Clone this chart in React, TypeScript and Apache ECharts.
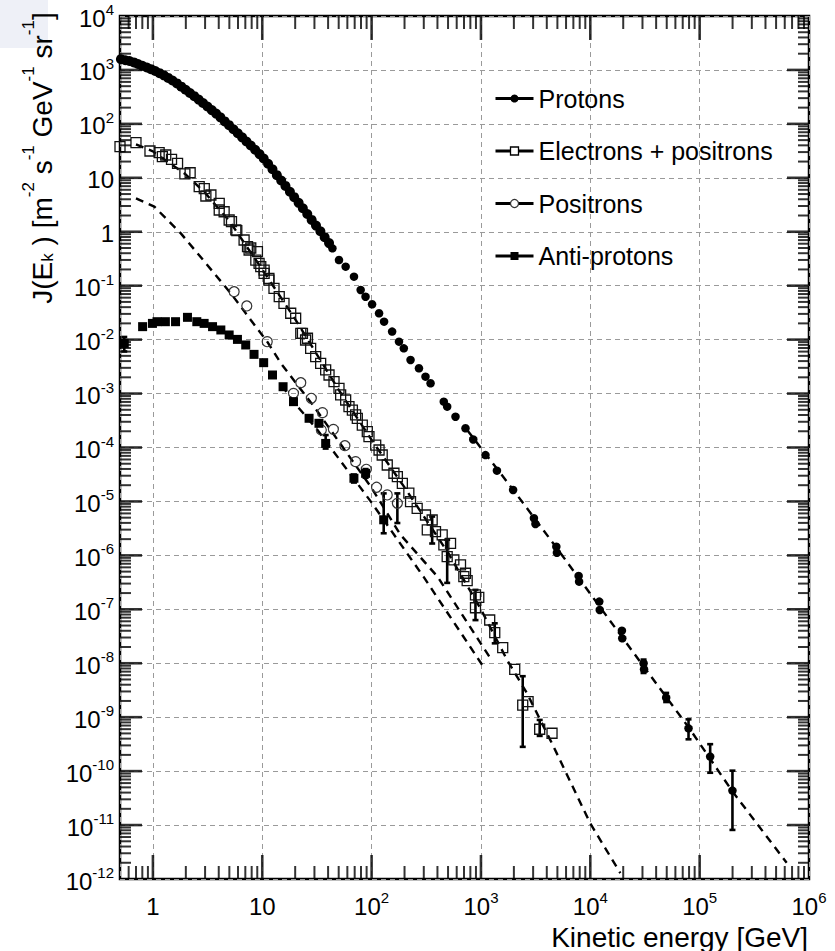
import React, { useEffect, useRef } from 'react';
import * as echarts from 'echarts';

const FONT = '"Liberation Sans", Arial, Helvetica, sans-serif';

// ---------- Data ----------
const protonE = [0.51, 0.56, 0.61, 0.67, 0.73, 0.8, 0.88, 0.96, 1.05, 1.15, 1.26, 1.38, 1.51, 1.66, 1.82, 1.99, 2.18, 2.39, 2.62, 2.87, 3.15, 3.45, 3.78, 4.14, 4.54, 4.97, 5.45, 5.97, 6.54, 7.17, 7.85, 8.61, 9.43, 10.3, 11.3, 12.4, 13.6, 14.9, 16.3, 17.9, 19.6, 21.5, 23.5, 25.8, 28.3, 31.0, 34.0, 37.2, 40.8,
  43.8, 50.3, 57.9, 69, 79.4, 88, 101, 117, 130, 154, 178, 197, 227, 271, 311, 346, 457, 491, 585, 722, 850, 1100, 1400, 1968, 3050, 3150, 4890, 4950, 7820, 7900, 12080, 12200, 19450, 19600, 30700, 31000, 49400, 79100, 124800, 199500];
const protonJ = [1585, 1514, 1462, 1380, 1288, 1197, 1109, 1033, 955, 871, 794, 711, 638, 562, 490, 429, 374, 326, 282, 244, 210, 180, 155, 132, 111, 94.8, 79.4, 67.0, 56.2, 47.2, 39.8, 33.1, 27.5, 22.8, 18.2, 14.4, 11.2, 8.91, 7.08, 5.52, 4.37, 3.44, 2.73, 2.13, 1.66, 1.30, 1.02, 0.794, 0.617,
  0.493, 0.299, 0.225, 0.147, 0.0832, 0.0625, 0.0452, 0.0308, 0.0215, 0.0141, 9.16e-3, 6.9e-3, 4.2e-3, 2.94e-3, 2.06e-3, 1.55e-3, 7.08e-4, 5.71e-4, 3.72e-4, 2.27e-4, 1.41e-4, 7.24e-5, 3.72e-5, 1.63e-5, 4.88e-6, 3.82e-6, 1.45e-6, 1.12e-6, 4.15e-7, 3.26e-7, 1.39e-7, 9.73e-8, 4.02e-8, 2.9e-8, 9.98e-9, 7.73e-9, 2.3e-9, 6.22e-10, 1.86e-10, 4.35e-11];
const protonErrE = [30700, 49400, 79100, 124800, 199500];
const protonErrHi = [1.17e-8, 2.82e-9, 9.12e-10, 3.16e-10, 1.02e-10];
const protonErrLo = [6.6e-9, 1.91e-9, 3.89e-10, 9.33e-11, 8.13e-12];

const electronE = [0.5, 0.7, 0.94, 1.14, 1.22, 1.31, 1.48, 1.68, 1.96, 2.19, 2.65, 2.95, 3.05, 3.39, 4.04, 4.04, 4.48, 4.98, 5.23, 5.73, 5.85, 6.82, 7.33, 7.58, 7.85, 9.03, 8.73, 9.35, 9.69, 10.4, 10.4, 11.5, 11.5, 12.8, 14.3, 15.8, 18.2, 20.2, 22.5, 23.3, 24.9, 25.9, 27.7, 30.8, 34.2, 38.0, 40.8, 45.3, 50.3, 52.1, 57.9, 62.1, 66.7, 71.4, 74.0, 82.2, 91.3, 94.6, 109, 117, 125, 139, 160, 172, 191, 219, 227, 261, 311, 358, 323, 384, 442, 458, 527, 491, 565, 650, 722, 697, 748, 891, 955, 891, 1202, 1337, 1581, 2036, 2410, 2698, 3444, 4466];
const electronJ = [37.8, 44.8, 31.4, 29.2, 24.7, 26.5, 22.0, 18.6, 11.8, 12.4, 6.85, 6.31, 4.6, 4.8, 3.37, 2.53, 2.35, 1.65, 1.54, 1.08, 1.05, 0.703, 0.528, 0.459, 0.5, 0.427, 0.299, 0.26, 0.225, 0.195, 0.169, 0.136, 0.127, 0.0893, 0.0625, 0.0471, 0.0308, 0.0249, 0.0131, 0.0131, 9.84e-3, 0.0106, 6.9e-3, 4.83e-3, 3.64e-3, 2.74e-3, 2.21e-3, 1.66e-3, 1.25e-3, 9.42e-4, 7.6e-4, 5.71e-4, 4.95e-4, 4.01e-4, 3.48e-4, 2.61e-4, 1.97e-4, 1.59e-4, 1.11e-4, 8.99e-5, 7.26e-5, 4.74e-5, 3.33e-5, 2.88e-5, 2.17e-5, 1.42e-5, 9.91e-6, 7.46e-6, 5.61e-6, 4.53e-6, 2.96e-6, 2.75e-6, 2.39e-6, 1.56e-6, 1.67e-6, 9.46e-7, 8.22e-7, 6.64e-7, 4.66e-7, 4.03e-7, 3.4e-7, 1.85e-7, 1.67e-7, 1.07e-7, 6.34e-8, 3.69e-8, 1.95e-8, 7.73e-9, 1.68e-9, 1.94e-9, 5.97e-10, 5.04e-10];
const electronErrE = [358, 491, 891, 1337, 2410, 3444];
const electronErrHi = [5.25e-6, 1.95e-6, 2.29e-7, 5.5e-8, 5.75e-9, 8.9e-10];
const electronErrLo = [1.66e-6, 3.09e-7, 6.31e-8, 2.34e-8, 2.82e-10, 4.5e-10];

const positronE = [5.53, 7.22, 11.1, 22.5, 19.3, 28.1, 35.5, 34.7, 44.7, 57.0, 71.4, 89.4, 111, 139, 172];
const positronJ = [0.0774, 0.0421, 9.16e-3, 1.59e-3, 1.01e-3, 8.17e-4, 4.43e-4, 2.11e-4, 2.17e-4, 1.08e-4, 5.46e-5, 3.94e-5, 1.83e-5, 1.32e-5, 9.23e-6];
const positronErrE = [172];
const positronErrHi = [1.41e-5];
const positronErrLo = [3.98e-6];

const antiprotonE = [0.547, 0.805, 0.99, 1.09, 1.3, 1.61, 2.07, 2.52, 2.94, 3.51, 4.18, 4.98, 5.93, 7.06, 8.41, 10.3, 12.4, 15.5, 19.3, 26.8, 33.0, 38.0, 68.9, 88.1, 129];
const antiprotonJ = [8.51e-3, 0.0174, 0.02, 0.0215, 0.0215, 0.0215, 0.0259, 0.0215, 0.02, 0.0174, 0.0151, 0.0122, 0.0101, 7.96e-3, 5.33e-3, 3.74e-3, 2.21e-3, 1.34e-3, 7.08e-4, 3.48e-4, 2.81e-4, 1.19e-4, 2.69e-5, 3.32e-5, 4.57e-6];
const antiprotonErrE = [0.547, 38.0, 68.9, 88.1, 129];
const antiprotonErrHi = [1.12e-2, 1.7e-4, 3.16e-5, 3.98e-5, 1.41e-5];
const antiprotonErrLo = [6.03e-3, 9.55e-5, 2.24e-5, 2.75e-5, 2.57e-6];

// dashed model curves
const protonFitE = [750, 2000, 5000, 12000, 30000, 80000, 200000, 625000];
const protonFitJ = [2.09e-4, 1.58e-5, 1.32e-6, 1.17e-7, 9.33e-9, 6.31e-10, 4.17e-11, 2.0e-12];
const electronFitE = [0.7, 1.0, 2.0, 3.0, 5.0, 10, 20, 50, 100, 200, 500, 1000, 1734, 2642, 4624, 10000, 18800];
const electronFitJ = [41.7, 30.9, 11.5, 5.25, 1.58, 0.2, 0.024, 1.17e-3, 1.38e-4, 1.82e-5, 1.12e-6, 1e-7, 1.15e-8, 2.75e-9, 2.82e-10, 1.07e-11, 1.29e-12];
const positronFitE = [0.7, 1.03, 1.8, 2.56, 3.63, 5.15, 7.85, 11.1, 14.8, 30, 100, 184, 401, 1260];
const positronFitJ = [4.17, 2.92, 0.933, 0.398, 0.17, 0.0724, 0.0231, 9.16e-3, 3.64e-3, 5.6e-4, 1.78e-5, 2.4e-6, 4.03e-7, 1.12e-8];
const antiprotonFitE = [15, 21, 32, 100, 298, 1050];
const antiprotonFitJ = [1.41e-3, 5.75e-4, 2.11e-4, 9.5e-6, 4.03e-7, 8.7e-9];

// axis tick values (log-axis decades and their 2..9 multiples)
const xMajorTicks: number[] = [];
const xMinorTicks: number[] = [];
for (let e = -1; e <= 5; e++) for (let k = 1; k <= 9; k++) {
  const v = Number((k * Math.pow(10, e)).toPrecision(6));
  if (v <= 0.5001 || v >= 1e6) continue;
  (k === 1 ? xMajorTicks : xMinorTicks).push(v);
}
const yMajorTicks: number[] = [];
const yMinorTicks: number[] = [];
for (let e = -12; e <= 3; e++) for (let k = 1; k <= 9; k++) {
  const v = Number((k * Math.pow(10, e)).toPrecision(6));
  if (v <= 1.0001e-12 || v >= 1e4) continue;
  (k === 1 ? yMajorTicks : yMinorTicks).push(v);
}

const X_MIN = 0.5, X_MAX = 1e6, Y_MIN = 1e-12, Y_MAX = 1e4;
const GRID = { left: 120, right: 26, top: 16, bottom: 72 };
const W = 835, H = 951;

const zip = (xs: number[], ys: number[]) => xs.map((x, i) => [x, ys[i]]);
const zip3 = (xs: number[], a: number[], b: number[]) => xs.map((x, i) => [x, a[i], b[i]]);

function powLabel(v: number) {
  const l = Math.log10(v);
  const n = Math.round(l);
  if (Math.abs(l - n) > 1e-6) return '';
  if (n === 0) return '{b|1}';
  if (n === 1) return '{b|10}';
  return '{b|10}{s|' + n + '}';
}

const labelRich = {
  b: { fontSize: 24, fontFamily: FONT, color: '#000', lineHeight: 28, verticalAlign: 'bottom' },
  s: { fontSize: 15, fontFamily: FONT, color: '#000', lineHeight: 12, verticalAlign: 'top' },
};

// tick marks as rectangular symbols pinned to the frame edges (placed through the axes' scales)
const tickSeries = (name: string, data: number[][], size: number[], offset: number[]) => ({
  name,
  type: 'scatter',
  data,
  symbol: 'rect',
  symbolSize: size,
  symbolOffset: offset,
  itemStyle: { color: '#000' },
  silent: true,
  clip: false,
  z: 6,
  emphasis: { disabled: true },
});

export default function App() {
  const ref = useRef<HTMLDivElement>(null);
  useEffect(() => {
    const chart = echarts.init(ref.current!, null, { renderer: 'svg' });

    const errRender = (params: any, api: any) => {
      const x = api.value(0);
      const p1 = api.coord([x, api.value(1)]);
      const p2 = api.coord([x, api.value(2)]);
      const st = { stroke: '#000', lineWidth: 2.6 };
      return {
        type: 'group',
        children: [
          { type: 'line', shape: { x1: p1[0], y1: p1[1], x2: p2[0], y2: p2[1] }, style: st },
          { type: 'line', shape: { x1: p1[0] - 3, y1: p1[1], x2: p1[0] + 3, y2: p1[1] }, style: st },
          { type: 'line', shape: { x1: p2[0] - 3, y1: p2[1], x2: p2[0] + 3, y2: p2[1] }, style: st },
        ],
      };
    };

    const fit = (name: string, xs: number[], ys: number[]) => ({
      name,
      type: 'line',
      data: zip(xs, ys),
      showSymbol: false,
      symbol: 'none',
      silent: true,
      z: 3,
      lineStyle: { color: '#000', width: 2.4, type: [8, 6] },
    });

    const yb = Y_MIN * 1.0001, yt = Y_MAX * 0.9999, xl = X_MIN * 1.0001, xr = X_MAX * 0.9999;

    const option: any = {
      animation: false,
      backgroundColor: '#fff',
      grid: { ...GRID, show: true, borderColor: '#000', borderWidth: 2.5, containLabel: false },
      legend: {
        orient: 'vertical',
        left: 489,
        top: 81,
        itemWidth: 38,
        itemHeight: 10,
        itemGap: 27.5,
        textStyle: { fontSize: 25, color: '#000', fontFamily: FONT },
        lineStyle: { color: '#000', width: 3, type: 'solid', opacity: 1 },
        data: [
          { name: 'Protons', itemStyle: { color: '#000', borderWidth: 0 } },
          { name: 'Electrons + positrons', itemStyle: { color: '#fff', borderColor: '#000', borderWidth: 1.3 } },
          { name: 'Positrons', itemStyle: { color: '#fff', borderColor: '#333', borderWidth: 1.2 } },
          { name: 'Anti-protons', itemStyle: { color: '#000', borderWidth: 0 } },
        ],
      },
      xAxis: {
        type: 'log',
        logBase: 10,
        min: X_MIN,
        max: X_MAX,
        axisLine: { show: false },
        axisTick: { show: false },
        splitLine: { show: true, lineStyle: { color: '#9a9a9a', width: 1, type: [5, 4] } },
        axisLabel: { margin: 11, formatter: (v: number) => powLabel(v), rich: labelRich },
      },
      yAxis: {
        type: 'log',
        logBase: 10,
        min: Y_MIN,
        max: Y_MAX,
        interval: 1,
        axisLine: { show: false },
        axisTick: { show: false },
        splitLine: { show: true, lineStyle: { color: '#9a9a9a', width: 1, type: [5, 4] } },
        axisLabel: { margin: 6, formatter: (v: number) => powLabel(v), rich: labelRich },
      },
      series: [
        fit('fit-protons', protonFitE, protonFitJ),
        fit('fit-electrons', electronFitE, electronFitJ),
        fit('fit-positrons', positronFitE, positronFitJ),
        fit('fit-antiprotons', antiprotonFitE, antiprotonFitJ),
        {
          name: 'Protons',
          type: 'line',
          data: zip(protonE, protonJ),
          symbol: 'circle',
          symbolSize: (val: number[]) => (val[0] < 42 ? 10 : 8.5),
          lineStyle: { width: 0, opacity: 0 },
          itemStyle: { color: '#000' },
          z: 5,
        },
        {
          name: 'Electrons + positrons',
          type: 'line',
          data: zip(electronE, electronJ),
          symbol: 'rect',
          symbolSize: 10,
          lineStyle: { width: 0, opacity: 0 },
          itemStyle: { color: 'rgba(255,255,255,0)', borderColor: '#111', borderWidth: 1.3 },
          z: 5,
        },
        {
          name: 'Positrons',
          type: 'line',
          data: zip(positronE, positronJ),
          symbol: 'circle',
          symbolSize: 10,
          lineStyle: { width: 0, opacity: 0 },
          itemStyle: { color: 'rgba(255,255,255,0)', borderColor: '#333', borderWidth: 1.2 },
          z: 5,
        },
        {
          name: 'Anti-protons',
          type: 'line',
          data: zip(antiprotonE, antiprotonJ),
          symbol: 'rect',
          symbolSize: 9,
          lineStyle: { width: 0, opacity: 0 },
          itemStyle: { color: '#000' },
          z: 5,
        },
        { type: 'custom', name: 'err-p', silent: true, z: 4, data: zip3(protonErrE, protonErrLo, protonErrHi), encode: { x: 0, y: [1, 2] }, renderItem: errRender },
        { type: 'custom', name: 'err-e', silent: true, z: 4, data: zip3(electronErrE, electronErrLo, electronErrHi), encode: { x: 0, y: [1, 2] }, renderItem: errRender },
        { type: 'custom', name: 'err-pos', silent: true, z: 4, data: zip3(positronErrE, positronErrLo, positronErrHi), encode: { x: 0, y: [1, 2] }, renderItem: errRender },
        { type: 'custom', name: 'err-pbar', silent: true, z: 4, data: zip3(antiprotonErrE, antiprotonErrLo, antiprotonErrHi), encode: { x: 0, y: [1, 2] }, renderItem: errRender },
        tickSeries('tick-xb-major', xMajorTicks.map((v) => [v, yb]), [2.6, 24], [0, -12]),
        tickSeries('tick-xb-minor', xMinorTicks.map((v) => [v, yb]), [2, 13], [0, -6.5]),
        tickSeries('tick-xt-major', xMajorTicks.map((v) => [v, yt]), [2.6, 24], [0, 12]),
        tickSeries('tick-xt-minor', xMinorTicks.map((v) => [v, yt]), [2, 13], [0, 6.5]),
        tickSeries('tick-yl-major', yMajorTicks.map((v) => [xl, v]), [22, 2.6], [11, 0]),
        tickSeries('tick-yl-minor', yMinorTicks.map((v) => [xl, v]), [11, 2], [5.5, 0]),
        tickSeries('tick-yr-major', yMajorTicks.map((v) => [xr, v]), [22, 2.6], [-11, 0]),
        tickSeries('tick-yr-minor', yMinorTicks.map((v) => [xr, v]), [11, 2], [-5.5, 0]),
      ],
      graphic: [
        { type: 'rect', z: -10, silent: true, shape: { x: 0, y: 0, width: 48, height: 48 }, style: { fill: '#eef0f7' } },
        {
          type: 'text',
          x: 38,
          y: 158,
          rotation: Math.PI / 2,
          style: {
            text: '{b|J(E}{sub|k}{b| ) [m}{sup|-2}{b| s}{sup|-1}{b| GeV}{sup|-1}{b| sr}{sup|-1}{b|]}',
            align: 'center',
            verticalAlign: 'middle',
            rich: {
              b: { fontSize: 28, fontFamily: FONT, fill: '#000', lineHeight: 36, verticalAlign: 'bottom' },
              sup: { fontSize: 17, fontFamily: FONT, fill: '#000', lineHeight: 16, verticalAlign: 'top' },
              sub: { fontSize: 17, fontFamily: FONT, fill: '#000', lineHeight: 16, verticalAlign: 'bottom' },
            },
          },
        },
        {
          type: 'text',
          x: 808,
          y: 937,
          style: { text: 'Kinetic energy [GeV]', font: '28px ' + FONT, fill: '#000', align: 'right', verticalAlign: 'middle', lineHeight: 24 },
        },
      ],
    };
    chart.setOption(option);
    return () => chart.dispose();
  }, []);
  return <div ref={ref} style={{ position: 'fixed', left: 0, top: 0, width: W, height: H, background: '#fff' }} />;
}
